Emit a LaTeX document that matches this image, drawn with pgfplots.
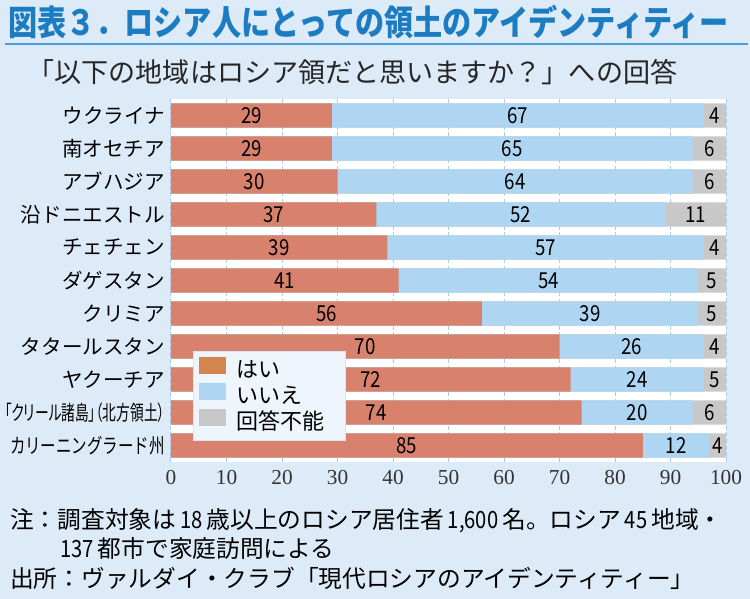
\documentclass[border=0pt]{standalone}
\usepackage{fontspec}
\usepackage{graphicx}
\usepackage{pgfplots}
\usepackage{pgfplotstable}
\pgfplotsset{compat=1.18}
\setmainfont{Noto Sans CJK JP}
\newfontfamily\titlefont[FakeStretch=0.84]{Noto Sans CJK JP}
\newfontfamily\numfont[FakeStretch=0.85]{Noto Sans CJK JP}
\newfontfamily\tickfont{Liberation Serif}
\newfontfamily\paltfont[RawFeature=+palt]{Noto Sans CJK JP}
\definecolor{bgc}{HTML}{DDEBF8}
\definecolor{yesc}{HTML}{D8826E}
\definecolor{noc}{HTML}{AED6F2}
\definecolor{dkc}{HTML}{C8C8C8}
\definecolor{yesleg}{HTML}{D4844F}
\definecolor{titc}{HTML}{1C7CC2}
\definecolor{linec}{HTML}{4AA0DC}
\definecolor{gridc}{HTML}{A8CCEA}
\definecolor{legbg}{HTML}{EEF5FC}
\definecolor{legbd}{HTML}{D4E5F4}
\pgfplotstableread{
idx yes no dk
0 29 67 4
1 29 65 6
2 30 64 6
3 37 52 11
4 39 57 4
5 41 54 5
6 56 39 5
7 70 26 4
8 72 24 5
9 74 20 6
10 85 12 4
}\data
\begin{document}
\begin{tikzpicture}
\useasboundingbox (0,0) rectangle (562.5pt,449.25pt);
\fill[bgc] (0,0) rectangle (562.5pt,449.25pt);
\node[anchor=west, inner sep=0pt, text=titc, font={\titlefont\bfseries\fontsize{26pt}{30pt}\selectfont}] at (6pt,432.75pt) {図表３．ロシア人にとっての領土のアイデンティティー};
\draw[linec, line width=1.1pt] (3.75pt,416.25pt) -- (561pt,416.25pt);
\node[anchor=west, inner sep=0pt, text=black!85, font={\fontsize{20.3pt}{23pt}\selectfont}] at (20.5pt,395.25pt) {「以下の地域はロシア領だと思いますか？」への回答};
\begin{axis}[
  at={(128.25pt,102.75pt)}, anchor=south west,
  scale only axis, width=416.25pt, height=272.25pt,
  xmin=0, xmax=100, ymin=-0.5, ymax=10.5, y dir=reverse,
  axis background/.style={fill=white},
  axis line style={draw=none},
  xmajorgrids, grid style={draw=gridc, line width=0.75pt, dash pattern=on 3pt off 2pt},
  xtick={0,10,...,100}, tick pos=bottom, xtick align=inside,
  major tick length=4pt,
  xtick style={draw=gridc, line width=0.75pt, solid},
  /pgf/number format/assume math mode=true,
  xticklabel style={font={\tickfont\fontsize{16pt}{18pt}\selectfont}, text=black!80, yshift=-3pt},
  ytick={0,...,10},
  ytick style={draw=none},
  yticklabel style={font={\fontsize{15.4pt}{18pt}\selectfont}, text=black, inner sep=0pt, xshift=-4.5pt},
  yticklabels={ウクライナ,南オセチア,アブハジア,沿ドニエストル,チェチェン,ダゲスタン,クリミア,タタールスタン,ヤクーチア,{\resizebox{120pt}{\height}{\paltfont「クリール諸島」（北方領土）}},{\resizebox{116pt}{\height}{カリーニングラード州}}},
  legend style={at={(0.0396,0.306)}, anchor=north west, fill=legbg, draw=legbd, line width=0.75pt,
    font={\fontsize{16.5pt}{19pt}\selectfont}, inner xsep=4pt, inner ysep=4.5pt,
    nodes={inner sep=1pt, text height=14pt, text depth=2.5pt}, row sep=1pt,
    /tikz/every odd column/.append style={column sep=7pt}},
  legend cell align=left,
  legend image code/.code={\fill[#1, draw=none] (0pt,-3.5pt) rectangle (20.25pt,9.25pt);},
]
\addlegendimage{fill=yesleg, draw=none}
\addlegendentry{\makebox[77pt][l]{はい}}
\addlegendimage{fill=noc, draw=none}
\addlegendentry{いいえ}
\addlegendimage{fill=dkc, draw=none}
\addlegendentry{回答不能}
\addplot[forget plot, xbar, bar width=0.73, bar shift=0pt, fill=dkc, draw=none] table[x expr=\thisrow{yes}+\thisrow{no}+\thisrow{dk}, y=idx] {\data};
\addplot[forget plot, xbar, bar width=0.73, bar shift=0pt, fill=noc, draw=none] table[x expr=\thisrow{yes}+\thisrow{no}, y=idx] {\data};
\addplot[forget plot, xbar, bar width=0.73, bar shift=0pt, fill=yesc, draw=none] table[x=yes, y=idx] {\data};
\addplot[forget plot, draw=none, mark=none, only marks, point meta=explicit, nodes near coords,
  nodes near coords style={anchor=center, font={\numfont\fontsize{16.5pt}{18pt}\selectfont}, text=black}]
  table[x expr=\thisrow{yes}/2, y=idx, meta=yes] {\data};
\addplot[forget plot, draw=none, mark=none, only marks, point meta=explicit, nodes near coords,
  nodes near coords style={anchor=center, font={\numfont\fontsize{16.5pt}{18pt}\selectfont}, text=black}]
  table[x expr=\thisrow{yes}+\thisrow{no}/2, y=idx, meta=no] {\data};
\addplot[forget plot, draw=none, mark=none, only marks, point meta=explicit, nodes near coords,
  nodes near coords style={anchor=center, font={\numfont\fontsize{16.5pt}{18pt}\selectfont}, text=black}]
  table[x expr=(\thisrow{yes}+\thisrow{no}+100)/2, y=idx, meta=dk] {\data};
\end{axis}
\begin{scope}[every node/.style={anchor=west, inner sep=0pt, text=black, font={\fontsize{17.8pt}{20pt}\selectfont}}]
\node at (7.5pt,58.5pt) {注：調査対象は{\numfont\,18\,}歳以上のロシア居住者{\numfont\,1,600\,}名。ロシア{\numfont\,45\,}地域・};
\node at (45pt,38.25pt) {{\numfont 137\,}都市で家庭訪問による};
\node at (7.5pt,15.75pt) {出所：ヴァルダイ・クラブ「現代ロシアのアイデンティティー」};
\end{scope}
\end{tikzpicture}
\end{document}
